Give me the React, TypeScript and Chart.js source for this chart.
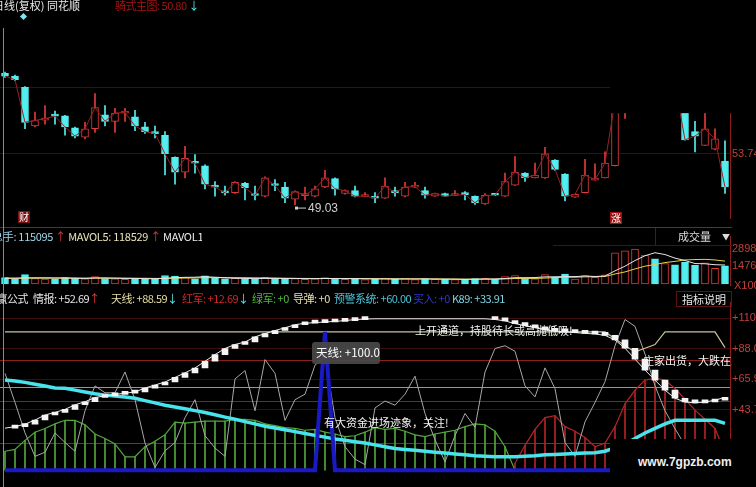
import React, { useEffect, useRef } from "react";
import { Chart, registerables } from "chart.js";

Chart.register(...registerables);

const FONT = '"Noto Sans CJK SC", "Noto Sans", sans-serif';

// ---------- categories ----------
const dayLabels = Array.from({ length: 73 }, (_, i) => `D${i + 1}`);

// ---------- price panel ----------
const openPrices = [
  61.19, 60.93, 59.9, 56.31, 56.85, 57.28, 57.25, 56.14, 55.28, 56.05,
  57.34, 56.74, 57.5, 57.16, 56.22, 55.65, 55.45, 53.4, 52.03, 52.9,
  52.63, 50.68, 50.16, 50.14, 51.0, 49.91, 49.8, 50.85, 50.66, 49.54,
  49.86, 49.8, 50.66, 51.43, 50.06, 50.32, 49.78, 49.8, 49.63, 50.32,
  49.8, 50.64, 50.32, 49.8, 50.06, 49.87, 50.06, 49.8, 49.1, 49.92,
  49.8, 50.83, 51.94, 51.51, 51.51, 53.14, 51.86, 49.72, 50.14, 51.3,
  51.51, 52.63, 58.6, 59.8, 61.0, 61.8, 60.9, 61.5, 59.5, 55.79,
  54.51, 54.17, 53.06,
];
const closePrices = [
  60.93, 60.59, 56.65, 56.82, 56.99, 57.22, 56.22, 55.37, 56.05, 58.02,
  56.74, 57.51, 57.55, 56.31, 55.79, 55.6, 53.74, 52.03, 53.31, 52.86,
  50.91, 50.64, 50.12, 51.09, 50.57, 49.87, 51.51, 50.8, 49.63, 50.23,
  49.92, 50.49, 51.51, 50.49, 50.32, 49.8, 49.82, 49.63, 50.74, 50.14,
  50.66, 50.68, 49.89, 50.06, 49.8, 49.91, 49.95, 49.2, 49.89, 49.89,
  51.17, 52.03, 51.51, 51.77, 53.74, 52.29, 49.8, 49.97, 51.77, 51.34,
  52.88, 58.6, 59.8, 61.0, 61.8, 60.9, 61.5, 60.2, 55.02, 55.37,
  56.05, 55.11, 50.66,
];
const highPrices = [
  61.3, 61.02, 59.95, 57.59, 58.19, 57.68, 57.3, 56.2, 56.65, 59.31,
  58.19, 57.94, 57.94, 57.76, 56.65, 56.31, 55.79, 53.45, 54.42, 53.65,
  52.7, 51.17, 50.74, 51.17, 51.1, 50.74, 51.6, 51.34, 51.09, 50.3,
  50.66, 50.74, 52.2, 51.5, 50.4, 50.74, 50.14, 50.14, 51.51, 50.66,
  51.09, 51.09, 50.66, 50.1, 50.1, 50.32, 50.23, 49.85, 50.06, 50.0,
  51.94, 53.48, 52.0, 52.88, 54.34, 53.2, 51.9, 50.0, 53.23, 52.8,
  53.91, 59.0, 60.3, 61.5, 62.2, 62.5, 62.0, 61.9, 60.0, 56.74,
  58.0, 56.05, 54.94,
];
const lowPrices = [
  60.8, 60.5, 56.05, 56.22, 56.48, 56.48, 55.45, 55.2, 55.11, 55.71,
  56.31, 55.71, 56.74, 55.88, 55.62, 55.2, 51.77, 50.91, 51.51, 51.94,
  50.49, 49.8, 49.89, 50.06, 49.46, 49.46, 49.75, 50.32, 49.2, 49.03,
  49.46, 49.75, 50.6, 49.89, 50.0, 49.75, 49.78, 49.2, 49.6, 49.8,
  49.75, 50.6, 49.63, 49.78, 49.78, 49.85, 49.46, 49.05, 49.05, 49.85,
  49.78, 50.8, 51.17, 51.5, 51.45, 52.2, 49.37, 49.7, 50.1, 51.3,
  51.5, 52.6, 57.0, 59.5, 60.6, 60.5, 60.3, 59.8, 55.0, 53.91,
  54.5, 54.1, 50.06,
];
const priceTicks = [53.74, 59.9];
const maskFromIndex = 61;
const maskAbovePrice = 57.5;

// ---------- volume panel (x100) ----------
const volumes = [
  520, 430, 780, 450, 400, 380, 520, 470, 430, 620,
  450, 420, 380, 460, 420, 400, 700, 650, 560, 420,
  680, 480, 420, 470, 430, 400, 560, 420, 470, 440,
  380, 420, 520, 450, 380, 420, 360, 400, 480, 380,
  440, 360, 420, 380, 380, 360, 380, 440, 470, 380,
  620, 700, 450, 420, 780, 600, 820, 400, 700, 560,
  760, 2600, 2750, 2898, 2400, 2100, 1700, 1600, 1800, 1550,
  1750, 1300, 1500,
];
const mavol5 = [
  480, 480, 500, 510, 510, 500, 500, 480, 460, 500,
  500, 480, 460, 460, 440, 430, 470, 520, 550, 560,
  600, 560, 520, 470, 460, 440, 460, 460, 460, 460,
  440, 440, 450, 450, 440, 440, 430, 420, 410, 410,
  410, 410, 420, 400, 400, 390, 380, 390, 410, 410,
  450, 520, 520, 530, 590, 590, 610, 610, 660, 620,
  660, 1090, 1480, 1950, 2350, 2600, 2450, 2150, 1950, 1700,
  1680, 1600, 1580,
];
const mavol10 = [
  470, 470, 480, 480, 480, 480, 480, 480, 480, 480,
  480, 480, 480, 470, 470, 460, 460, 480, 490, 500,
  520, 520, 520, 520, 520, 510, 500, 490, 470, 460,
  460, 450, 450, 450, 450, 450, 440, 440, 440, 430,
  430, 420, 420, 420, 410, 410, 400, 400, 400, 400,
  420, 450, 460, 460, 490, 520, 560, 560, 590, 600,
  620, 830, 1000, 1250, 1480, 1620, 1780, 1880, 2000, 2030,
  2050, 2000, 1900,
];
const volumeTicks = [2898, 1476];

// ---------- indicator panel ----------
const intelLine = [
  30.4, 31.5, 33.3, 36.3, 39.9, 41.8, 44.0, 47.3, 49.5, 52.6,
  53.7, 54.8, 55.7, 56.6, 59.4, 61.6, 63.8, 67.1, 70.4, 73.9,
  78.8, 83.6, 88.0, 90.9, 92.7, 96.4, 98.8, 101.0, 103.0, 105.2,
  106.3, 106.7, 107.2, 107.6, 108.2, 108.9, 109.3, 109.5, 109.5, 109.5,
  109.5, 109.5, 109.5, 109.5, 109.5, 109.5, 109.5, 109.5, 109.5, 109.0,
  108.0, 106.0, 104.5, 103.0, 101.5, 100.5, 100.0, 99.5, 99.0, 98.5,
  97.5, 94.2, 88.2, 80.3, 72.4, 65.1, 57.9, 52.0, 49.3, 48.7,
  49.3, 50.6, 52.69,
];
const skyLine = [
  100, 100, 100, 100, 100, 100, 100, 100, 100, 100,
  100, 100, 100, 100, 100, 100, 100, 100, 100, 100,
  100, 100, 100, 100, 100, 100, 100, 100, 100, 100,
  100, 100, 100, 100, 100, 100, 100, 100, 100, 100,
  100, 100, 100, 100, 100, 100, 100, 100, 100, 100,
  100, 100, 100, 100, 100, 100, 100, 100, 100, 100,
  100, 95.0, 90.0, 85.6, 88.2, 90.9, 100, 100, 100, 100,
  100, 100, 88.59,
];
const swingLine = [
  70, 49, 27, 10, 13, 27, 20, 13.7, 43, 61,
  56, 56, 71, 51, 19.6, 2, 14, 20, 38, 51,
  25, 16, 10, 66, 72, 43, 80, 70, 36, 51,
  55, 76, 82, 38, 17, 8, 4, 45, 50, 47,
  55, 68, 41, 22, 6, 25, 41, 31, 71, 88,
  90, 86, 61, 53, 74, 59, 20, 10, 35, 49,
  64, 90, 109, 104, 84, 61, 43, 30, 18, 10,
  5, 3, 2,
];
const greenArmy = [
  13.7, 15, 21.6, 27.5, 30.2, 33.5, 36.1, 36.1, 32.8, 26.2,
  22.9, 19, 9.7, 9.7, 17, 21, 25.6, 34.8, 34.1, 34.8,
  35.5, 35.5, 35.5, 36.8, 36.8, 36.1, 33.5, 32.2, 30.8, 30.2,
  28.9, 29.5, 27.5, 26.2, 24.3, 24.9, 27.5, 30.8, 29.5, 30.2,
  28.2, 25.6, 24.3, 26.2, 27.5, 28.9, 31.5, 33.5, 32.8, 28.2,
  17, 0, null, null, null, null, null, null, null, null,
  null, null, null, null, null, null, null, null, null, null,
  null, null, null,
];
const redArmy = [
  null, null, null, null, null, null, null, null, null, null,
  null, null, null, null, null, null, null, null, null, null,
  null, null, null, null, null, null, null, null, null, null,
  null, null, null, null, null, null, null, null, null, null,
  null, null, null, null, null, null, null, null, null, null,
  null, 5, 18, 29.5, 38, 39.4, 31.5, 28.2, 23.6, 17,
  19.6, 31.5, 48, 57.9, 65.1, 66.5, 65.1, 59.2, 51.3, 43.4,
  36.8, 30.2, 12.69,
];
const k89Line = [
  65.3, 64.5, 63.5, 62.2, 60.9, 59.5, 59.2, 57.9, 56.6, 55.3,
  54.3, 53.6, 52.9, 52.0, 50.3, 48.7, 47.0, 45.7, 44.4, 43.1,
  41.7, 40.1, 38.4, 36.8, 35.1, 33.5, 31.8, 30.5, 29.2, 27.9,
  26.6, 25.2, 23.9, 22.6, 21.6, 20.6, 19.6, 18.3, 17.0, 15.7,
  15.0, 14.4, 13.7, 13.0, 12.4, 11.7, 11.1, 10.4, 10.1, 9.7,
  9.7, 9.7, 10.1, 10.4, 11.1, 11.4, 11.7, 12.1, 12.4, 12.7,
  13.7, 16.3, 19.0, 22.9, 26.9, 30.2, 33.5, 36.1, 36.1, 36.1,
  36.1, 36.1, 33.91,
];
const buySignal = [
  0, 0, 0, 0, 0, 0, 0, 0, 0, 0,
  0, 0, 0, 0, 0, 0, 0, 0, 0, 0,
  0, 0, 0, 0, 0, 0, 0, 0, 0, 0,
  0, 0, 100, 0, 0, 0, 0, 0, 0, 0,
  0, 0, 0, 0, 0, 0, 0, 0, 0, 0,
  0, 0, 0, 0, 0, 0, 0, 0, 0, 0,
  0, 0, 0, 0, 0, 0, 0, 0, 0, 0,
  0, 0, 0,
];
const indicatorTicks = [110, 88.0, 65.9, 43.7];
const indicatorTickText = ["+110", "+88.0", "+65.9", "+43.7"];
const refLevels = [80, 60, 50, 20];

// ---------- styles ----------
const UP = "#e03a3a";
const DOWN = "#54eef0";
const AXIS_RED = "#8e1c1c";
const GRID = "#3e0e0e";
const TICK_TEXT = "#c0403c";
const AXIS_W = 26;

const isUp = (i: number) => closePrices[i] >= openPrices[i];

function rightAxis(min: number, max: number, ticks: number[], fmt: (v: number, i: number) => string, grid = true) {
  return {
    position: "right" as const,
    min,
    max,
    afterFit: (s: any) => {
      s.width = AXIS_W;
    },
    afterBuildTicks: (s: any) => {
      s.ticks = ticks.map((v) => ({ value: v }));
    },
    ticks: {
      color: TICK_TEXT,
      font: { size: 11, family: '"Liberation Sans", Arial, sans-serif' },
      padding: 2,
      callback: (v: any, i: number) => fmt(Number(v), i),
    },
    grid: { display: grid, color: GRID, drawTicks: false },
    border: { color: AXIS_RED, width: 1 },
  };
}

const hiddenX = { display: false, offset: true };

type Part = [string, string];

function Row({ left, top, parts, spacing = -0.5 }: { left: number; top: number; parts: Part[]; spacing?: number }) {
  return (
    <div
      style={{
        position: "absolute",
        left,
        top,
        whiteSpace: "nowrap",
        fontSize: 11,
        lineHeight: "13px",
        letterSpacing: spacing,
        fontFamily: FONT,
      }}
    >
      {parts.map(([s, c], i) => (
        <span key={i} style={{ color: c }}>
          {s}
        </span>
      ))}
    </div>
  );
}

function App() {
  const priceRef = useRef<HTMLCanvasElement>(null);
  const volRef = useRef<HTMLCanvasElement>(null);
  const indRef = useRef<HTMLCanvasElement>(null);

  useEffect(() => {
    const charts: Chart[] = [];

    // ---- price chart ----
    const maskPlugin = {
      id: "mask",
      afterDatasetsDraw(chart: any) {
        const { ctx, scales } = chart;
        const x = scales.x;
        const y = scales.y;
        const left = (x.getPixelForValue(maskFromIndex - 1) + x.getPixelForValue(maskFromIndex)) / 2;
        const bottom = y.getPixelForValue(maskAbovePrice);
        ctx.save();
        ctx.fillStyle = "#000";
        ctx.fillRect(left, 0, chart.width - left, bottom);
        const minLow = Math.min(...lowPrices);
        const mi = lowPrices.indexOf(minLow);
        const px = x.getPixelForValue(mi) + 1;
        const py = y.getPixelForValue(minLow) + 3;
        ctx.strokeStyle = "#cfcfcf";
        ctx.fillStyle = "#cfcfcf";
        ctx.lineWidth = 1;
        ctx.beginPath();
        ctx.moveTo(px, py + 0.5);
        ctx.lineTo(px + 10, py + 0.5);
        ctx.stroke();
        ctx.fillRect(px - 1, py - 1, 3, 3);
        ctx.font = '12px "Liberation Sans", Arial, sans-serif';
        ctx.textBaseline = "middle";
        ctx.fillText(minLow.toFixed(2), px + 12, py + 1);
        ctx.restore();
      },
    };

    charts.push(
      new Chart(priceRef.current!, {
        type: "bar",
        data: {
          labels: dayLabels,
          datasets: [
            {
              type: "line",
              data: closePrices,
              borderColor: "#9c2020",
              borderWidth: 1,
              pointRadius: 0,
              order: -1,
            } as any,
            {
              type: "bar",
              data: openPrices.map((o, i) => [o, closePrices[i]]),
              backgroundColor: (c: any) => (isUp(c.dataIndex) ? "#000" : DOWN),
              borderColor: (c: any) => (isUp(c.dataIndex) ? UP : DOWN),
              borderWidth: 1,
              borderSkipped: false,
              barThickness: 7,
              minBarLength: 2,
              grouped: false,
              order: 0,
            } as any,
            {
              type: "bar",
              data: lowPrices.map((l, i) => [l, highPrices[i]]),
              backgroundColor: (c: any) => (isUp(c.dataIndex) ? UP : DOWN),
              barThickness: 1,
              grouped: false,
              order: 1,
            } as any,
          ],
        },
        options: {
          animation: false,
          responsive: false,
          events: [],
          layout: { padding: 0 },
          plugins: { legend: { display: false }, tooltip: { enabled: false } },
          scales: {
            x: hiddenX,
            y: rightAxis(47.75, 67.18, priceTicks, (v) => v.toFixed(2)),
          } as any,
        },
        plugins: [maskPlugin],
      })
    );

    // ---- volume chart ----
    charts.push(
      new Chart(volRef.current!, {
        type: "bar",
        data: {
          labels: dayLabels,
          datasets: [
            { type: "line", data: mavol5, borderColor: "#e6e6e6", borderWidth: 1, pointRadius: 0, order: -2 } as any,
            { type: "line", data: mavol10, borderColor: "#e4d24a", borderWidth: 1, pointRadius: 0, order: -1 } as any,
            {
              type: "bar",
              data: volumes,
              backgroundColor: (c: any) => (isUp(c.dataIndex) ? "#000" : DOWN),
              borderColor: (c: any) => (isUp(c.dataIndex) ? UP : DOWN),
              borderWidth: 1,
              borderSkipped: false,
              barThickness: 7,
              grouped: false,
              order: 0,
            } as any,
          ],
        },
        options: {
          animation: false,
          responsive: false,
          events: [],
          layout: { padding: 0 },
          plugins: { legend: { display: false }, tooltip: { enabled: false } },
          scales: {
            x: hiddenX,
            y: rightAxis(-123, 3946, volumeTicks, (v) => String(Math.round(v)), false),
          } as any,
        },
      })
    );

    // ---- indicator chart ----
    const intelBoxes = intelLine.map((v, i) => {
      const prev = i === 0 ? v : intelLine[i - 1];
      return Math.abs(v - prev) < 0.3 ? null : [prev, v];
    });

    const refPlugin = {
      id: "refs",
      beforeDatasetsDraw(chart: any) {
        const { ctx, chartArea, scales } = chart;
        const colors: Record<number, string> = { 80: "#8e1e1e", 60: "#3fb8cc", 50: "#8e1e1e", 20: "#444444" };
        ctx.save();
        ctx.lineWidth = 1;
        refLevels.forEach((lv) => {
          const py = Math.round(scales.y.getPixelForValue(lv)) + 0.5;
          ctx.strokeStyle = colors[lv] || "#444";
          ctx.beginPath();
          ctx.moveTo(chartArea.left, py);
          ctx.lineTo(chartArea.right, py);
          ctx.stroke();
        });
        ctx.restore();
      },
      afterDraw(chart: any) {
        const { ctx, scales } = chart;
        const peakVal = Math.max(...buySignal);
        const pi = buySignal.indexOf(peakVal);
        const px = scales.x.getPixelForValue(pi);
        const py = scales.y.getPixelForValue(peakVal);
        const bx = px - 13;
        const by = py + 10;
        ctx.save();
        ctx.fillStyle = "rgba(72,72,72,0.93)";
        ctx.beginPath();
        (ctx as any).roundRect(bx, by, 68, 22, 3);
        ctx.fill();
        ctx.fillStyle = "#ffffff";
        ctx.font = `11.5px ${FONT}`;
        ctx.textBaseline = "middle";
        ctx.fillText(`天线: +${peakVal.toFixed(1)}`, bx + 4, by + 11);
        ctx.restore();
      },
    };

    charts.push(
      new Chart(indRef.current!, {
        type: "bar",
        data: {
          labels: dayLabels,
          datasets: [
            { type: "line", data: buySignal, borderColor: "#1a1ac4", borderWidth: 4, pointRadius: 0, order: -6 } as any,
            {
              type: "bar",
              data: intelBoxes,
              backgroundColor: "#f4f4f4",
              barThickness: 6,
              minBarLength: 3,
              grouped: false,
              order: -5,
            } as any,
            { type: "line", data: intelLine, borderColor: "#ededed", borderWidth: 1, pointRadius: 0, order: -4 } as any,
            { type: "line", data: k89Line, borderColor: "#48e4ee", borderWidth: 3.5, pointRadius: 0, order: -3 } as any,
            { type: "line", data: skyLine, borderColor: "#c8c49a", borderWidth: 1.2, pointRadius: 0, order: -2 } as any,
            { type: "line", data: swingLine, borderColor: "#a8a8a8", borderWidth: 1, pointRadius: 0, order: -1 } as any,
            { type: "line", data: greenArmy, borderColor: "#52a63c", borderWidth: 1.2, pointRadius: 0, order: 0 } as any,
            { type: "line", data: redArmy, borderColor: "#b42424", borderWidth: 1.2, pointRadius: 0, order: 0 } as any,
            { type: "bar", data: greenArmy, backgroundColor: "#52a63c", barThickness: 1, grouped: false, order: 1 } as any,
            { type: "bar", data: redArmy, backgroundColor: "#b42424", barThickness: 1, grouped: false, order: 1 } as any,
          ],
        },
        options: {
          animation: false,
          responsive: false,
          events: [],
          layout: { padding: 0 },
          plugins: { legend: { display: false }, tooltip: { enabled: false } },
          scales: {
            x: hiddenX,
            y: rightAxis(-5.93, 121.2, indicatorTicks, (_v, i) => indicatorTickText[i]),
          } as any,
        },
        plugins: [refPlugin],
      })
    );

    return () => charts.forEach((c) => c.destroy());
  }, []);

  const txt = (left: number, top: number, color: string, s: string, extra: any = {}) => (
    <span
      style={{
        position: "absolute",
        left,
        top,
        color,
        fontSize: 11,
        lineHeight: "13px",
        whiteSpace: "nowrap",
        fontFamily: FONT,
        ...extra,
      }}
    >
      {s}
    </span>
  );

  return (
    <div
      style={{
        position: "fixed",
        left: 0,
        top: 0,
        width: 756,
        height: 487,
        background: "#000",
        overflow: "hidden",
        fontFamily: FONT,
      }}
    >
      <canvas ref={priceRef} width={756} height={227} style={{ position: "absolute", left: 0, top: 0 }} />
      <canvas ref={volRef} width={756} height={66} style={{ position: "absolute", left: 0, top: 228 }} />
      <canvas ref={indRef} width={756} height={193} style={{ position: "absolute", left: 0, top: 294 }} />

      {/* separators */}
      <div style={{ position: "absolute", left: 0, top: 227, width: 732, height: 1, background: AXIS_RED }} />
      <div style={{ position: "absolute", left: 553, top: 245, width: 179, height: 1, background: "#4a1010" }} />
      <div style={{ position: "absolute", left: 3, top: 28, width: 1, height: 459, background: "#8a8a8a" }} />

      {/* top header */}
      <Row left={-7} top={-1} spacing={0} parts={[["日线(复权) 同花顺", "#e8e8e8"]]} />
      <Row left={115} top={-1} parts={[["骑式主图: 50.80 ", "#a81616"], ["↓", DOWN]]} />
      <div
        style={{
          position: "absolute",
          left: 21,
          top: 14,
          width: 5,
          height: 5,
          background: "#7fe6f2",
          transform: "rotate(45deg)",
        }}
      />

      {/* candle tags */}
      {txt(18, 211, "#ffffff", "财", { background: "#7a1010", fontSize: 10, lineHeight: "12px", padding: "0 1px" })}
      {txt(610, 212, "#ffffff", "涨", { background: "#9a1414", fontSize: 10, lineHeight: "12px", padding: "0 1px" })}

      {/* volume header */}
      <div style={{ position: "absolute", left: 0, top: 230, width: 202, height: 14, overflow: "hidden" }}>
        <Row
          left={-8}
          top={0}
          spacing={-0.3}
          parts={[
            ["总手: 115095 ", "#9fd6ee"],
            ["↑ ", UP],
            ["MAVOL5: 118529 ", "#e8e2b8"],
            ["↑ ", UP],
            ["MAVOL10: 112877", "#ececec"],
          ]}
        />
      </div>
      <div
        style={{
          position: "absolute",
          left: 655,
          top: 228,
          width: 76,
          height: 17,
          borderLeft: "1px solid #5a1414",
          boxSizing: "border-box",
        }}
      >
        {txt(22, 2, "#dcdcdc", "成交量")}
        {txt(66, 2, "#dcdcdc", "▼", { fontSize: 8 })}
      </div>
      {txt(734, 279, TICK_TEXT, "X100", { fontFamily: '"Liberation Sans", Arial, sans-serif' })}

      {/* indicator header */}
      <Row left={-14} top={292} parts={[["致赢公式", "#e6e6e6"]]} />
      <Row left={33} top={292} parts={[["情报: +52.69", "#e6e6e6"], ["↑", UP]]} />
      <Row left={111} top={292} parts={[["天线: +88.59", "#e6dfa6"], ["↓", DOWN]]} />
      <Row left={182} top={292} parts={[["红军: +12.69", "#d02828"], ["↓", DOWN]]} />
      <Row left={252} top={292} parts={[["绿军: +0", "#4fb83a"]]} />
      <Row left={293} top={292} parts={[["导弹: +0", "#e6e0b0"]]} />
      <Row left={334} top={292} parts={[["预警系统: +60.00", "#4cc2d6"]]} />
      <Row left={413} top={292} parts={[["买入: +0", "#2a38d8"]]} />
      <Row left={452} top={292} parts={[["K89: +33.91", "#7ed6e4"]]} />
      <div
        style={{
          position: "absolute",
          left: 676,
          top: 291,
          width: 56,
          height: 16,
          border: "1px solid #5a1414",
          boxSizing: "border-box",
        }}
      >
        {txt(5, 1, "#e6e6e6", "指标说明")}
      </div>

      {/* indicator annotations */}
      {txt(415, 324, "#f2f2f2", "上开通道，持股待长或高抛低吸!")}
      <div style={{ position: "absolute", left: 640, top: 353, width: 92, height: 15, overflow: "hidden" }}>
        {txt(3, 1, "#f2f2f2", "庄家出货，大跌在即")}
      </div>
      {txt(324, 416, "#f2f2f2", "有大资金进场迹象，关注!")}

      {/* watermark */}
      <div
        style={{
          position: "absolute",
          left: 610,
          top: 439,
          width: 130,
          height: 48,
          background: "#000",
        }}
      >
        <span
          style={{
            position: "absolute",
            left: 28,
            top: 16,
            color: "#f0f0f0",
            fontSize: 12,
            fontWeight: "bold",
            fontFamily: '"Liberation Sans", Arial, sans-serif',
          }}
        >
          www.7gpzb.com
        </span>
      </div>
    </div>
  );
}

export default App;
